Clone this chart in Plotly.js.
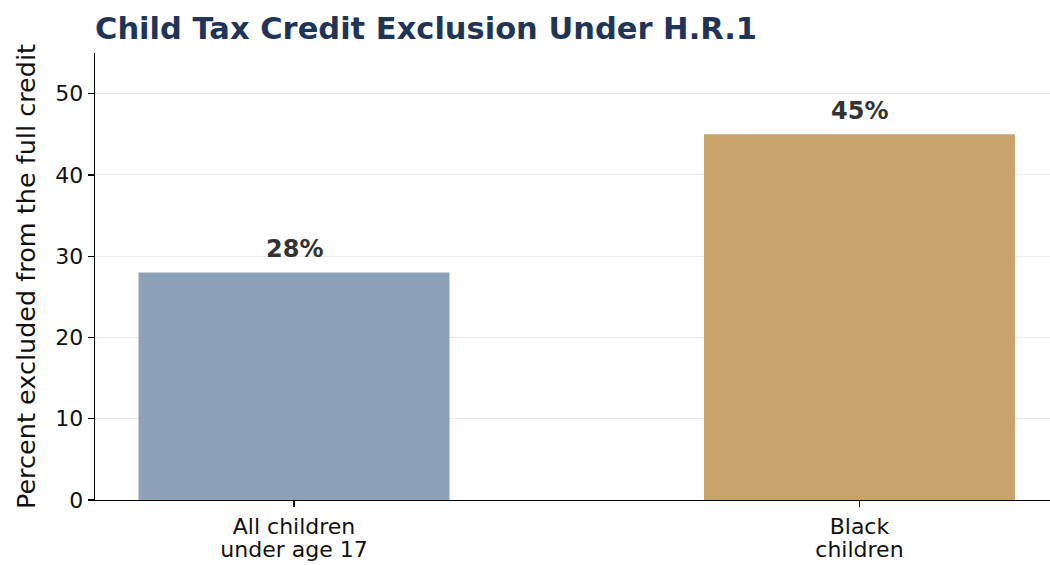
<!DOCTYPE html>
<html>
<head>
<meta charset="utf-8">
<script src="https://cdn.plot.ly/plotly-3.0.1.min.js"></script>
<style>html,body{margin:0;padding:0;background:#fff}#chart{width:1050px;height:565px}</style>
</head>
<body>
<div id="chart"></div>
<script>
const categories = ["All children<br>under age 17", "Black<br>children"];
const values = [28, 45];
const valueLabels = ["28%", "45%"];
const barColors = ["#8da1b9", "#c8a46a"];
const yTicks = [0, 10, 20, 30, 40, 50];

const font = "DejaVu Sans, Verdana, sans-serif";
const xIdx = categories.map((c, i) => i);
// Larger glyphs on a tighter line pitch (matplotlib-like line spacing)
const tickText = categories.map(c => c.split("<br>")
  .map(s => "<span style='font-size:22px'>" + s + "</span>").join("<br>"));

const trace = {
  type: "bar",
  x: xIdx,
  y: values,
  width: 0.55,
  marker: {color: barColors, line: {width: 0}},
  hoverinfo: "skip"
};

const annotations = values.map((v, i) => ({
  x: i, y: v, xref: "x", yref: "y",
  text: valueLabels[i], showarrow: false,
  yanchor: "bottom", yshift: 7,
  font: {family: font, size: 24, color: "#333333", weight: "bold"}
}));

const layout = {
  width: 1050, height: 565,
  margin: {l: 95, r: 0, t: 53, b: 65},
  paper_bgcolor: "#ffffff", plot_bgcolor: "#ffffff",
  showlegend: false,
  title: {
    text: "<b>Child Tax Credit Exclusion Under H.R.1</b>",
    x: 95/1050, xanchor: "left", y: 0.949, yanchor: "middle",
    font: {family: font, size: 30.5, color: "#1f3558"}
  },
  xaxis: {
    range: [-0.352, 1.337],
    tickmode: "array", tickvals: xIdx, ticktext: tickText,
    showgrid: false, zeroline: false,
    showline: true, linecolor: "#000", linewidth: 1.3,
    ticks: "outside", ticklen: 6, tickcolor: "#000", tickwidth: 1.2,
    ticklabelstandoff: 5,
    tickfont: {family: font, size: 18, color: "#111"},
    fixedrange: true
  },
  yaxis: {
    range: [0, 55],
    tickmode: "array", tickvals: yTicks, ticktext: yTicks.map(String),
    showgrid: true, gridcolor: "#ebebeb", gridwidth: 1,
    zeroline: false,
    showline: true, linecolor: "#000", linewidth: 1.3,
    ticks: "outside", ticklen: 6, tickcolor: "#000", tickwidth: 1.2,
    tickfont: {family: font, size: 22, color: "#111"},
    title: {text: "Percent excluded from the full credit", standoff: 12,
            font: {family: font, size: 25.5, color: "#111"}},
    fixedrange: true
  },
  annotations: annotations
};

Plotly.newPlot("chart", [trace], layout, {displayModeBar: false, staticPlot: true});
</script>
</body>
</html>
